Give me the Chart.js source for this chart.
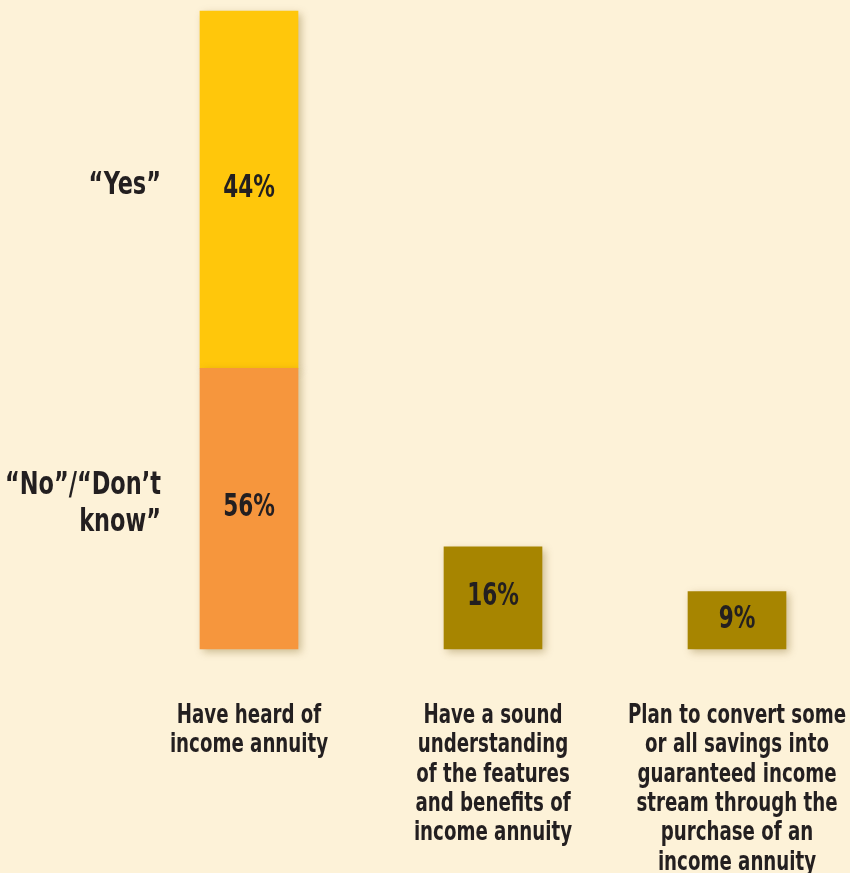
<!DOCTYPE html>
<html>
<head>
<meta charset="utf-8">
<script src="https://cdn.jsdelivr.net/npm/chart.js@4/dist/chart.umd.min.js"></script>
<style>
  html, body { margin: 0; padding: 0; background: #fdf2d8; }
  #wrap { width: 850px; height: 873px; }
</style>
</head>
<body>
<div id="wrap"><canvas id="myChart"></canvas></div>
<script>
var categories = [
    ['Have heard of', 'income annuity'],
    ['Have a sound', 'understanding', 'of the features', 'and benefits of', 'income annuity'],
    ['Plan to convert some', 'or all savings into', 'guaranteed income', 'stream through the', 'purchase of an', 'income annuity']
];
// segment heights as drawn in the source art (its printed % on the first bar
// don't match the heights: orange is drawn ~44 tall, yellow ~56 tall)
var noValues = [44, null, null];
var yesValues = [56, null, null];
var otherValues = [null, 16, 9];
// percentages as printed on the bars
var noPrinted = ['56%', null, null];
var yesPrinted = ['44%', null, null];
var otherPrinted = [null, '16%', '9%'];
var sideLabels = [['\u201cNo\u201d/\u201cDon\u2019t', 'know\u201d'], ['\u201cYes\u201d']];

var FONT = "'DejaVu Sans Condensed', 'DejaVu Sans', sans-serif";
var TEXT = '#231f20';

// draw text squeezed horizontally around its anchor (fake a narrow face)
function narrowText(c, text, x, y, align, sx) {
    c.save();
    c.translate(x, y);
    c.scale(sx, 1);
    c.textAlign = align;
    c.fillText(text, 0, 0);
    c.restore();
}

// soft shadow behind the bars
var shadowPlugin = {
    id: 'barShadow',
    beforeDatasetDraw: function (chart) {
        var c = chart.ctx;
        c.save();
        c.shadowColor = 'rgba(110, 80, 10, 0.35)';
        c.shadowBlur = 8;
        c.shadowOffsetX = 3;
        c.shadowOffsetY = 3;
    },
    afterDatasetDraw: function (chart) {
        chart.ctx.restore();
    }
};

var labelPlugin = {
    id: 'barLabels',
    afterDatasetsDraw: function (chart) {
        var c = chart.ctx;
        c.save();
        c.fillStyle = TEXT;
        c.textBaseline = 'middle';

        // percent in each bar
        c.font = 'bold 32px ' + FONT;
        chart.data.datasets.forEach(function (ds, di) {
            chart.getDatasetMeta(di).data.forEach(function (bar, i) {
                var txt = ds.printed[i];
                if (txt == null) return;
                var p = bar.getProps(['x', 'y', 'base'], true);
                narrowText(c, txt, p.x, (p.y + p.base) / 2 - 1, 'center', 0.75);
            });
        });

        // side labels for the stacked bar
        [0, 1].forEach(function (di) {
            var bar = chart.getDatasetMeta(di).data[0];
            var p = bar.getProps(['x', 'y', 'base'], true);
            var lines = sideLabels[di];
            var mid = (p.y + p.base) / 2 - 4;
            lines.forEach(function (t, k) {
                narrowText(c, t, 161, mid + (k - (lines.length - 1) / 2) * 37, 'right', 0.78);
            });
        });

        // category labels under the bars
        var xs = chart.scales.x;
        var top = chart.chartArea.bottom + 67;
        c.font = 'bold 27px ' + FONT;
        categories.forEach(function (lines, i) {
            var x = xs.getPixelForValue(i);
            lines.forEach(function (t, k) {
                narrowText(c, t, x, top + k * 29.3, 'center', 0.75);
            });
        });
        c.restore();
    }
};

var ctx = document.getElementById('myChart').getContext('2d');
var myChart = new Chart(ctx, {
    type: 'bar',
    data: {
        labels: categories,
        datasets: [{
            label: 'No / Don\u2019t know',
            data: noValues,
            printed: noPrinted,
            backgroundColor: '#f6963d',
            barThickness: 98,
            clip: false
        }, {
            label: 'Yes',
            data: yesValues,
            printed: yesPrinted,
            backgroundColor: '#ffc70b',
            barThickness: 98,
            clip: false
        }, {
            label: 'Other',
            data: otherValues,
            printed: otherPrinted,
            backgroundColor: '#a78500',
            barThickness: 98,
            clip: false
        }]
    },
    options: {
        responsive: true,
        maintainAspectRatio: false,
        animation: false,
        layout: {
            padding: { left: 249, right: 113, top: 11, bottom: 224 }
        },
        plugins: {
            legend: { display: false },
            tooltip: { enabled: false }
        },
        scales: {
            x: {
                stacked: true,
                offset: false,
                display: false
            },
            y: {
                stacked: true,
                display: false,
                min: 0,
                max: 100
            }
        }
    },
    plugins: [shadowPlugin, labelPlugin]
});
</script>
</body>
</html>
